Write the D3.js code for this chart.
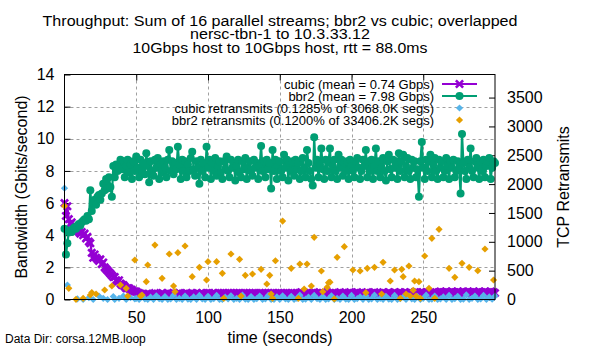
<!DOCTYPE html>
<html>
<head>
<meta charset="utf-8">
<script src="https://cdn.jsdelivr.net/npm/d3@7"></script>
<style>
  body { margin: 0; background: #fff; }
  svg { display: block; font-family: "Liberation Sans", Arial, sans-serif; }
</style>
</head>
<body>
<svg id="chart" width="600" height="350"></svg>
<script>
// throughput: bbr2 vs cubic, 16 streams, per-second samples t = 0..300

const titleLines = [
    "Throughput: Sum of 16 parallel streams; bbr2 vs cubic; overlapped",
    "nersc-tbn-1 to 10.3.33.12",
    "10Gbps host to 10Gbps host, rtt = 88.0ms"
];
const titleWidths = [475, 180, 295];
const seriesNames = [
    "cubic (mean = 0.74 Gbps)",
    "bbr2 (mean = 7.98 Gbps)",
    "cubic retransmits (0.1285% of 3068.0K segs)",
    "bbr2 retransmits (0.1200% of 33406.2K segs)"
];
const xTicks = [50, 100, 150, 200, 250];
const yTicks = [0, 2, 4, 6, 8, 10, 12, 14];
const y2Ticks = [0, 500, 1000, 1500, 2000, 2500, 3000, 3500];

const times = d3.range(0, 301);   // seconds

// Gbits/sec
const cubic = [
    6.0, 5.2, 5.8, 5.0, 4.7, 4.8, 4.5, 4.4, 4.3, 4.3,
    4.2, 4.1, 4.2, 4.0, 4.1, 3.8, 3.9, 3.6, 3.5, 2.9,
    2.6, 2.8, 2.6, 2.5, 2.4, 2.5, 2.2, 2.3, 2.0, 1.9,
    1.8, 1.7, 1.6, 1.5, 1.4, 1.4, 1.2, 1.1, 1.2, 1.0,
    0.9, 0.9, 0.8, 0.7, 0.7, 0.7, 0.6, 0.6, 0.5, 0.5,
    0.5, 0.4, 0.4, 0.35, 0.3, 0.35, 0.3, 0.3, 0.35, 0.3,
    0.3, 0.35, 0.3, 0.4, 0.3, 0.35, 0.3, 0.3, 0.4, 0.35,
    0.3, 0.35, 0.4, 0.3, 0.35, 0.3, 0.4, 0.35, 0.3, 0.35,
    0.4, 0.3, 0.35, 0.3, 0.35, 0.4, 0.3, 0.35, 0.3, 0.4,
    0.35, 0.3, 0.4, 0.35, 0.3, 0.35, 0.4, 0.3, 0.35, 0.4,
    0.35, 0.4, 0.3, 0.35, 0.4, 0.35, 0.3, 0.4, 0.35, 0.4,
    0.35, 0.4, 0.35, 0.3, 0.4, 0.35, 0.4, 0.35, 0.4, 0.35,
    0.4, 0.35, 0.4, 0.35, 0.3, 0.4, 0.35, 0.4, 0.35, 0.4,
    0.35, 0.4, 0.35, 0.4, 0.35, 0.3, 0.4, 0.35, 0.4, 0.35,
    0.4, 0.35, 0.4, 0.35, 0.4, 0.35, 0.4, 0.3, 0.35, 0.4,
    0.35, 0.4, 0.35, 0.4, 0.35, 0.4, 0.35, 0.3, 0.4, 0.35,
    0.4, 0.35, 0.4, 0.35, 0.4, 0.45, 0.35, 0.4, 0.35, 0.4,
    0.35, 0.4, 0.35, 0.4, 0.45, 0.35, 0.4, 0.35, 0.4, 0.35,
    0.4, 0.35, 0.4, 0.45, 0.35, 0.4, 0.35, 0.4, 0.35, 0.4,
    0.35, 0.4, 0.45, 0.35, 0.4, 0.35, 0.4, 0.35, 0.4, 0.45,
    0.35, 0.4, 0.35, 0.4, 0.45, 0.35, 0.4, 0.35, 0.4, 0.35,
    0.4, 0.45, 0.35, 0.4, 0.35, 0.4, 0.45, 0.35, 0.4, 0.35,
    0.4, 0.35, 0.45, 0.4, 0.35, 0.4, 0.45, 0.4, 0.35, 0.4,
    0.45, 0.4, 0.35, 0.4, 0.45, 0.4, 0.35, 0.45, 0.4, 0.35,
    0.4, 0.45, 0.4, 0.35, 0.45, 0.4, 0.45, 0.35, 0.4, 0.45,
    0.4, 0.35, 0.45, 0.4, 0.45, 0.4, 0.35, 0.45, 0.4, 0.45,
    0.4, 0.45, 0.5, 0.4, 0.45, 0.4, 0.5, 0.45, 0.4, 0.45,
    0.5, 0.4, 0.45, 0.4, 0.5, 0.45, 0.4, 0.45, 0.5, 0.4,
    0.45, 0.5, 0.4, 0.45, 0.4, 0.5, 0.45, 0.4, 0.45, 0.5,
    0.4, 0.45, 0.4, 0.5, 0.45, 0.4, 0.45, 0.5, 0.4, 0.45, 0.4
];

const bbr2 = [
    4.4, 2.8, 3.5, 4.2, 4.3, 4.2, 4.4, 4.5, 4.4, 4.6,
    4.7, 4.6, 4.8, 4.9, 5.0, 4.9, 5.2, 5.0, 6.8, 5.5,
    6.0, 6.2, 5.9, 6.4, 6.5, 6.2, 6.6, 7.2, 6.8, 7.5,
    6.9, 7.6, 7.0, 6.4, 8.3, 7.6, 8.4, 8.0, 8.2, 8.7,
    8.1, 8.6, 7.6, 8.3, 8.7, 7.9, 8.4, 7.5, 8.6, 8.0,
    8.9, 8.2, 7.6, 8.7, 8.0, 8.5, 7.8, 9.1, 8.3, 7.3,
    8.6, 8.0, 7.7, 8.7, 8.2, 8.8, 7.5, 8.4, 7.9, 8.6,
    8.2, 7.6, 8.7, 9.3, 8.0, 8.6, 7.8, 8.5, 8.1, 9.5,
    8.4, 7.5, 8.7, 8.0, 8.6, 7.6, 8.4, 8.0, 8.8, 9.2,
    8.1, 7.7, 8.6, 8.2, 7.2, 8.7, 8.0, 8.5, 7.6, 9.5,
    8.2, 8.7, 7.5, 8.5, 8.0, 8.8, 7.7, 8.3, 8.6, 7.9,
    7.5, 8.6, 8.1, 8.9, 8.0, 7.6, 8.7, 8.2, 8.5, 7.4,
    8.3, 8.7, 7.9, 7.6, 8.6, 8.1, 8.8, 7.5, 8.2, 8.6,
    8.0, 7.7, 8.7, 8.2, 8.5, 7.5, 8.3, 9.55, 8.0, 8.6,
    7.6, 8.7, 8.1, 8.5, 6.9, 9.3, 8.0, 8.7, 7.5, 8.3,
    8.6, 8.0, 7.6, 9.0, 8.2, 8.7, 7.4, 8.5, 8.0, 8.6,
    7.7, 8.7, 8.1, 8.5, 7.5, 8.0, 8.8, 8.2, 7.6, 9.3,
    8.5, 8.0, 7.5, 7.1, 10.1, 8.2, 8.7, 7.6, 8.4, 9.4,
    8.1, 7.5, 8.7, 8.0, 8.6, 9.4, 7.6, 8.3, 8.7, 8.0,
    7.5, 9.0, 8.2, 8.7, 7.7, 8.5, 8.0, 8.6, 7.5, 8.7,
    8.3, 8.0, 7.6, 8.6, 8.8, 8.2, 7.5, 8.0, 8.7, 8.3,
    9.3, 7.6, 8.6, 8.0, 8.7, 7.5, 8.3, 9.4, 8.0, 8.6,
    7.6, 8.2, 8.8, 8.0, 7.4, 8.6, 9.0, 8.1, 7.6, 8.7,
    8.2, 8.6, 7.5, 9.1, 8.0, 8.6, 9.0, 7.6, 8.3, 8.8,
    8.0, 7.5, 8.7, 8.2, 8.6, 7.6, 8.1, 6.4, 8.6, 9.8,
    8.2, 7.5, 8.7, 8.0, 8.6, 9.0, 7.6, 8.4, 8.8, 8.0,
    7.5, 8.7, 8.2, 8.6, 7.6, 8.0, 8.8, 8.3, 7.5, 8.6,
    8.2, 8.7, 7.6, 8.0, 8.6, 8.2, 6.6, 10.3, 8.5, 8.0,
    7.5, 8.7, 8.2, 9.4, 8.0, 7.6, 8.6, 8.8, 8.2, 7.5,
    8.6, 8.0, 8.7, 7.6, 8.3, 8.6, 8.8, 7.5, 8.2, 8.6, 8.5
];

// retransmits (segments per second), only the intervals that were logged
const cubicRetxTimes = [
    0, 2, 9, 13, 17, 20, 24, 27, 30, 34, 35, 38, 41, 43, 46, 49,
    50, 52, 54, 56, 58, 60, 62, 64, 66, 68, 70, 72, 74, 76, 78, 80, 82, 84, 86, 88, 90, 92, 94, 96, 98,
    100, 102, 104, 106, 108, 110, 112, 114, 116, 118, 120, 122, 124, 126, 128, 130, 132, 134, 136, 138, 140, 142, 144, 146, 148,
    150, 152, 154, 156, 158, 160, 162, 164, 166, 168, 170, 172, 174, 176, 178, 180, 182, 184, 186, 188, 190, 192, 194, 196, 198,
    200, 202, 204, 206, 208, 210, 212, 214, 216, 218, 220, 222, 224, 226, 228, 230, 232, 234, 236, 238, 240, 242, 244, 246, 248,
    250, 252, 254, 256, 258, 260, 262, 264, 266, 268, 270, 272, 274, 276, 278, 280, 282, 284, 286, 288, 290, 292, 294, 296, 298, 300
];
const cubicRetx = [
    1930, 250, 10, 0, 30, 0, 60, 20, 0, 50, 0, 20, 60, 0, 30, 10,
    20, 0, 70, 10, 0, 40, 0, 65, 15, 0, 50, 0, 10, 75, 0, 20, 0, 60, 5, 0, 45, 0, 70, 10, 0,
    55, 0, 15, 70, 0, 0, 40, 10, 65, 0, 20, 0, 75, 5, 0, 50, 0, 15, 60, 0, 10, 70, 0, 0, 45,
    0, 65, 10, 0, 55, 0, 20, 75, 0, 5, 40, 0, 70, 15, 0, 50, 0, 10, 65, 0, 20, 0, 60, 5, 0,
    70, 0, 15, 45, 0, 65, 0, 10, 75, 0, 20, 0, 55, 5, 0, 70, 0, 15, 40, 0, 65, 10, 0, 50, 0,
    20, 75, 0, 5, 60, 0, 10, 45, 0, 70, 0, 15, 55, 0, 5, 80, 0, 20, 60, 0, 10, 70, 0, 45, 5, 60
];

const bbr2RetxTimes = [
    0, 3, 8, 13, 18, 19, 22, 28, 33, 39, 43, 44, 49, 53, 54, 57, 58, 63, 68, 73, 76, 77, 79,
    84, 89, 94, 99, 100, 106, 110, 111, 116, 122, 123, 126, 131, 137, 141, 143, 144, 145, 147,
    152, 158, 163, 164, 167, 169, 172, 174, 179, 180, 183, 184, 185, 188, 190, 195, 201, 206,
    210, 211, 216, 221, 222, 227, 230, 234, 235, 236, 238, 240, 241, 243, 244, 245, 247, 248,
    251, 254, 256, 258, 261, 268, 272, 277, 282, 288, 293, 299
];
const bbr2Retx = [
    1620, 194, 3, 20, 78, 120, 95, 165, 234, 251, 194, 60, 685, 60, 78, 309, 598, 944, 367, 789, 234, 136, 811,
    927, 395, 558, 338, 655, 655, 454, 20, 789, 697, 60, 419, 442, 523, 269, 419, 95, 20, 672,
    1360, 541, 20, 615, 182, 615, 234, 1078, 494, 136, 211, 291, 300, 10, 731, 915, 511, 494,
    118, 541, 558, 95, 645, 321, 511, 20, 523, 395, 95, 581, 60, 160, 321, 60, 309, 20,
    754, 194, 1060, 20, 1216, 541, 384, 627, 558, 500, 875, 338
];

const colors = ["#9400d3", "#009e73", "#56b4e9", "#e69f00"];

// ── layout
const mL = 64.5, mR = 495, mT = 74.5, mB = 299.5;

const svg = d3.select("#chart");

const x = d3.scaleLinear().domain([0, 300]).range([mL, mR]);
const y = d3.scaleLinear().domain([0, 14]).range([mB, mT]);
const y2 = d3.scaleLinear().domain([0, 3900]).range([mB, mT]);

// title (gnuplot's font runs a bit wider than ours, so pin the widths)
svg.append("g").selectAll("text")
    .data(titleLines)
    .enter().append("text")
    .attr("x", 280)
    .attr("y", (d, i) => 25.5 + i * 13.8)
    .attr("text-anchor", "middle")
    .attr("font-size", 15.5)
    .attr("textLength", (d, i) => titleWidths[i])
    .attr("lengthAdjust", "spacingAndGlyphs")
    .text(d => d);

// grid
const grid = svg.append("g")
    .attr("stroke", "#a0a0a0")
    .attr("stroke-width", 1)
    .attr("stroke-dasharray", "3,3");
grid.selectAll("line.gx").data(xTicks).enter().append("line")
    .attr("x1", d => Math.round(x(d)) + 0.5).attr("x2", d => Math.round(x(d)) + 0.5)
    .attr("y1", mT).attr("y2", mB);
grid.selectAll("line.gy").data(yTicks.filter(d => d > 0 && d < 14)).enter().append("line")
    .attr("x1", mL).attr("x2", mR)
    .attr("y1", d => Math.round(y(d)) + 0.5).attr("y2", d => Math.round(y(d)) + 0.5);

// axes (ticks pointing inward, gnuplot style)
const fontSize = 16;
const xAxisB = d3.axisBottom(x).tickValues(xTicks).tickSizeInner(-6).tickSizeOuter(0).tickPadding(12);
const xAxisT = d3.axisTop(x).tickValues(xTicks).tickSizeInner(-6).tickSizeOuter(0).tickFormat("");
const yAxisL = d3.axisLeft(y).tickValues(yTicks).tickSizeInner(-6).tickSizeOuter(0).tickPadding(10);
const yAxisR = d3.axisRight(y2).tickValues(y2Ticks).tickFormat(d3.format("d"))
    .tickSizeInner(-6).tickSizeOuter(0).tickPadding(12);

function styleAxis(g) {
    g.select(".domain").remove();
    g.selectAll(".tick line").attr("stroke", "#000");
    g.selectAll(".tick text")
        .attr("font-size", fontSize)
        .attr("font-family", "Liberation Sans, Arial, sans-serif")
        .attr("fill", "#000");
}
svg.append("g").attr("transform", `translate(0,${mB})`).call(xAxisB).call(styleAxis);
svg.append("g").attr("transform", `translate(0,${mT})`).call(xAxisT).call(styleAxis);
svg.append("g").attr("transform", `translate(${mL},0)`).call(yAxisL).call(styleAxis);
svg.append("g").attr("transform", `translate(${mR},0)`).call(yAxisR).call(styleAxis);

// axis titles
svg.append("text")
    .attr("transform", `translate(27,${(mT + mB) / 2}) rotate(-90)`)
    .attr("text-anchor", "middle")
    .attr("font-size", fontSize)
    .text("Bandwidth (Gbits/second)");
svg.append("text")
    .attr("transform", `translate(569,${(mT + mB) / 2}) rotate(-90)`)
    .attr("text-anchor", "middle")
    .attr("font-size", fontSize)
    .text("TCP Retransmits");
svg.append("text")
    .attr("x", 280).attr("y", 343)
    .attr("text-anchor", "middle")
    .attr("font-size", fontSize)
    .text("time (seconds)");
svg.append("text")
    .attr("x", 5).attr("y", 343)
    .attr("font-size", 12)
    .text("Data Dir: corsa.12MB.loop");

// ── marks
const plot = svg.append("g");

const crossPath = "M-3.6,-3.6L3.6,3.6M-3.6,3.6L3.6,-3.6";
const diamond = "M0,-3.6L3.6,0L0,3.6L-3.6,0Z";

function drawLineSeries(values, color, kind) {
    const pts = times.map((t, i) => [t, values[i]]);
    const line = d3.line().x(d => x(d[0])).y(d => y(d[1]));
    plot.append("path")
        .datum(pts)
        .attr("fill", "none")
        .attr("stroke", color)
        .attr("stroke-width", 2.2)
        .attr("d", line);
    const g = plot.append("g");
    if (kind === "cross") {
        g.selectAll("path").data(pts).enter().append("path")
            .attr("transform", d => `translate(${x(d[0])},${y(d[1])})`)
            .attr("d", crossPath)
            .attr("stroke", color)
            .attr("stroke-width", 2.6)
            .attr("fill", "none");
    } else {
        g.selectAll("circle").data(pts).enter().append("circle")
            .attr("cx", d => x(d[0]))
            .attr("cy", d => y(d[1]))
            .attr("r", 4)
            .attr("fill", color);
    }
}

function drawPoints(ts, vs, color) {
    plot.append("g").selectAll("path")
        .data(ts.map((t, i) => [t, vs[i]]))
        .enter().append("path")
        .attr("transform", d => `translate(${x(d[0])},${y2(d[1])})`)
        .attr("d", diamond)
        .attr("fill", color);
}

drawLineSeries(cubic, colors[0], "cross");
drawLineSeries(bbr2, colors[1], "circle");
drawPoints(cubicRetxTimes, cubicRetx, colors[2]);
drawPoints(bbr2RetxTimes, bbr2Retx, colors[3]);

// frame
svg.append("rect")
    .attr("x", mL).attr("y", mT)
    .attr("width", mR - mL).attr("height", mB - mT)
    .attr("fill", "none")
    .attr("stroke", "#000")
    .attr("stroke-width", 1);

// ── legend
const legend = svg.append("g").attr("font-size", 13);
seriesNames.forEach((name, i) => {
    const ly = 84 + i * 12;
    legend.append("text")
        .attr("x", 434).attr("y", ly)
        .attr("dy", "0.35em")
        .attr("text-anchor", "end")
        .text(name);
    if (i < 2) {
        legend.append("line")
            .attr("x1", 442).attr("x2", 477)
            .attr("y1", ly).attr("y2", ly)
            .attr("stroke", colors[i]).attr("stroke-width", 2.2);
    }
    if (i === 0) {
        legend.append("path").attr("transform", `translate(459.5,${ly})`)
            .attr("d", crossPath).attr("stroke", colors[i]).attr("stroke-width", 2.6);
    } else if (i === 1) {
        legend.append("circle").attr("cx", 459.5).attr("cy", ly).attr("r", 4).attr("fill", colors[i]);
    } else {
        legend.append("path").attr("transform", `translate(459.5,${ly})`)
            .attr("d", diamond).attr("fill", colors[i]);
    }
});
</script>
</body>
</html>
